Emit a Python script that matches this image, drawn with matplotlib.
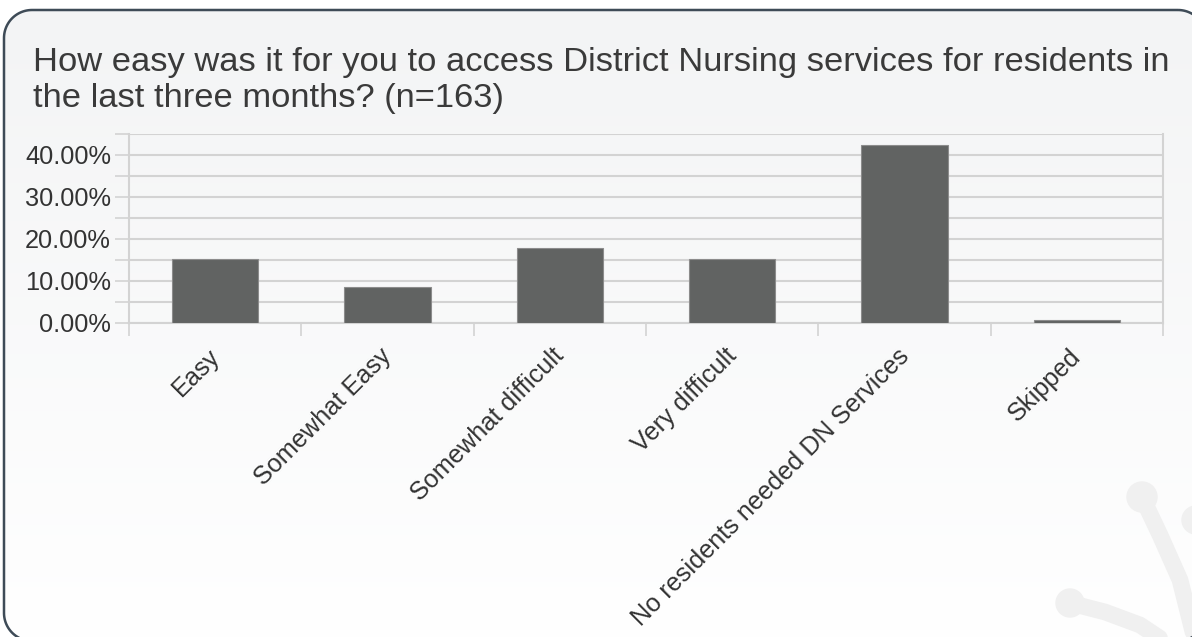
import numpy as np
import matplotlib
matplotlib.use("Agg")
import matplotlib.pyplot as plt
from matplotlib.patches import PathPatch, Circle
from matplotlib.path import Path
from matplotlib.ticker import FixedLocator, FuncFormatter
import matplotlib.transforms as mtransforms

categories = ["Easy", "Somewhat Easy", "Somewhat difficult", "Very difficult",
              "No residents needed DN Services", "Skipped"]
percent_values = [15.34, 8.59, 17.79, 15.34, 42.33, 0.61]
title_text = ("How easy was it for you to access District Nursing services for residents in\n"
              "the last three months? (n=163)")

plt.rcParams['font.family'] = ['Liberation Sans', 'DejaVu Sans']

W, H = 1192, 637
fig = plt.figure(figsize=(W / 100, H / 100), dpi=100)
fig.patch.set_facecolor("white")

# background panel in pixel-like coordinates (y measured downward)
bg_ax = fig.add_axes([0, 0, 1, 1], zorder=-10)
bg_ax.axis("off")


def rounded_rect(x0, y0, x1, y1, r, n=24):
    pts = []
    corners = [(x1 - r, y0 + r, -90, 0), (x1 - r, y1 - r, 0, 90),
               (x0 + r, y1 - r, 90, 180), (x0 + r, y0 + r, 180, 270)]
    for cx, cy, a0, a1 in corners:
        t = np.radians(np.linspace(a0, a1, n))
        pts.extend(zip(cx + r * np.cos(t), cy + r * np.sin(t)))
    pts.append(pts[0])
    return Path(np.array(pts))


border = rounded_rect(4, 10, 1206, 641, 28)
patch = PathPatch(border, facecolor="none", edgecolor="#3e4b57", linewidth=1.8, zorder=3)
bg_ax.add_patch(patch)

grad = np.linspace(0, 1, 256).reshape(-1, 1)
top = np.array([243, 244, 245]) / 255
bot = np.array([255, 255, 255]) / 255
img = top[None, None, :] * (1 - grad[:, :, None]) + bot[None, None, :] * grad[:, :, None]
im = bg_ax.imshow(img, extent=[4, 1206, 641, 10], aspect="auto", zorder=1)
im.set_clip_path(patch)

# faint decorative watermark (background artwork)
wm_col = "#f0f0f0"
bg_ax.plot([1142, 1160, 1180, 1195], [497, 535, 580, 640], color=wm_col, lw=12,
           solid_capstyle="round", zorder=2)
bg_ax.plot([1070, 1105, 1140, 1170], [603, 612, 625, 645], color=wm_col, lw=12,
           solid_capstyle="round", zorder=2)
for cx, cy, r in [(1142, 497, 15), (1070, 603, 14), (1196, 520, 14)]:
    bg_ax.add_patch(Circle((cx, cy), r, color=wm_col, zorder=2))

bg_ax.set_xlim(0, W)
bg_ax.set_ylim(H, 0)

fig.text(33 / W, 1 - 47 / H, title_text, ha="left", va="top",
         fontsize=24.8, color="#3a3a3a", linespacing=1.2)

left, right = 129 / W, 1163 / W
bottom, topf = 1 - 323 / H, 1 - 134 / H
ax = fig.add_axes([left, bottom, right - left, topf - bottom])
ax.set_facecolor("none")

x = np.arange(len(categories))
ax.bar(x, percent_values, width=0.5, color="#616362", edgecolor="#8c8c8c",
       linewidth=0.8, zorder=3)

ax.set_xlim(-0.5, len(categories) - 0.5)
ax.set_ylim(0, 45)

ax.yaxis.set_major_locator(FixedLocator(np.arange(0, 46, 5)))
ax.yaxis.set_major_formatter(FuncFormatter(lambda v, p: f"{v:.2f}%" if int(round(v)) % 10 == 0 and v < 45 else ""))
ax.grid(axis="y", color="#d3d3d3", linewidth=1.5, zorder=0)
ax.tick_params(axis="y", length=10, width=1.2, color="#d3d3d3", labelsize=18.3,
               labelcolor="#333333", pad=3)

ax.xaxis.set_major_locator(FixedLocator(np.arange(-0.5, len(categories), 1.0)))
ax.xaxis.set_major_formatter(FuncFormatter(lambda v, p: ""))
ax.xaxis.set_minor_locator(FixedLocator(x))
ax.set_xticklabels(categories, minor=True, rotation=45, ha="right", va="top",
                   fontsize=18.2, color="#333333")
ax.tick_params(axis="x", which="major", length=9, width=1.2, color="#d3d3d3")
ax.tick_params(axis="x", which="minor", length=0, pad=15)
offset = mtransforms.ScaledTranslation(9 / 100, 0, fig.dpi_scale_trans)
for lab in ax.xaxis.get_minorticklabels():
    lab.set_transform(lab.get_transform() + offset)

for s in ["left", "right", "bottom", "top"]:
    ax.spines[s].set_color("#d3d3d3")
    ax.spines[s].set_linewidth(1.5)
ax.spines["top"].set_visible(False)

fig.savefig("out.png", dpi=100)
